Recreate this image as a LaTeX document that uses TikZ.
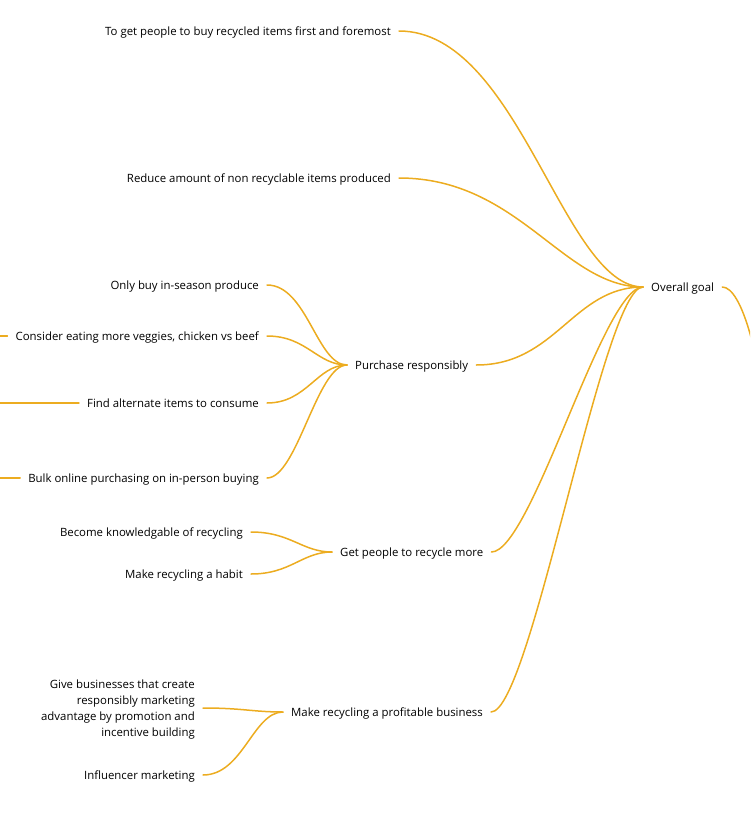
\documentclass[tikz,border=0pt]{standalone}
\usepackage{fontspec}
\setmainfont{Open Sans}
\usepackage{tikz}
\definecolor{branch}{RGB}{236,172,32}

\begin{document}
\begin{tikzpicture}[x=1pt, y=-1pt, every node/.style={font=\fontsize{11.4}{16}\selectfont, text=black, text depth=0pt},
  leaf/.style={anchor=east, inner xsep=8pt, inner ysep=2pt, align=right},
  hub/.style={anchor=west, inner xsep=8pt, inner ysep=2pt},
  link/.style={draw=branch, line width=1.5pt, line cap=round}]
\clip (0,0) rectangle (750,819);
% main hub
\node[hub] (goal) at (643,287) {Overall goal};
\node[leaf] (buy) at (399,31) {To get people to buy recycled items first and foremost};
\node[leaf] (reduce) at (399,178) {Reduce amount of non recyclable items produced};
\node[hub] (purchase) at (347,365) {Purchase responsibly};
\node[hub] (recycle) at (332,552) {Get people to recycle more};
\node[hub] (business) at (283,712) {Make recycling a profitable business};
% leaves
\node[leaf] (season) at (267,285) {Only buy in-season produce};
\node[leaf] (veggies) at (267,336) {Consider eating more veggies, chicken vs beef};
\node[leaf] (alternate) at (267,403) {Find alternate items to consume};
\node[leaf] (bulk) at (267,478) {Bulk online purchasing on in-person buying};
\node[leaf] (knowledge) at (251,532) {Become knowledgable of recycling};
\node[leaf] (habit) at (251,574) {Make recycling a habit};
\node[leaf] (advantage) at (203,708) {Give businesses that create\\responsibly marketing\\advantage by promotion and\\incentive building};
\node[leaf] (influencer) at (203,775) {Influencer marketing};
% free ends off the page
\coordinate (goal-out) at (765,420);
\coordinate (veggies-out) at (-10,336);
\coordinate (alternate-out) at (-10,403);
\coordinate (bulk-out) at (-10,478);

\draw[link] (buy.east) .. controls +(120,0) and +(-80,0) .. (goal.west);
\draw[link] (reduce.east) .. controls +(120,0) and +(-80,0) .. (goal.west);
\draw[link] (purchase.east) .. controls +(80,0) and +(-70,0) .. (goal.west);
\draw[link] (recycle.east) .. controls +(40,0) and +(-40,0) .. (goal.west);
\draw[link] (business.east) .. controls +(40,0) and +(-40,0) .. (goal.west);
\draw[link] (goal.east) .. controls +(20,0) and +(-5,-60) .. (goal-out);

\draw[link] (season.east) .. controls +(40,0) and +(-30,0) .. (purchase.west);
\draw[link] (veggies.east) .. controls +(40,0) and +(-30,0) .. (purchase.west);
\draw[link] (alternate.east) .. controls +(40,0) and +(-30,0) .. (purchase.west);
\draw[link] (bulk.east) .. controls +(30,0) and +(-30,0) .. (purchase.west);
\draw[link] (knowledge.east) .. controls +(40,0) and +(-30,0) .. (recycle.west);
\draw[link] (habit.east) .. controls +(40,0) and +(-30,0) .. (recycle.west);
\draw[link] (advantage.east) .. controls +(40,0) and +(-30,0) .. (business.west);
\draw[link] (influencer.east) .. controls +(40,0) and +(-30,0) .. (business.west);

\draw[link] (veggies.west) -- (veggies-out);
\draw[link] (alternate.west) -- (alternate-out);
\draw[link] (bulk.west) -- (bulk-out);
\end{tikzpicture}
\end{document}
